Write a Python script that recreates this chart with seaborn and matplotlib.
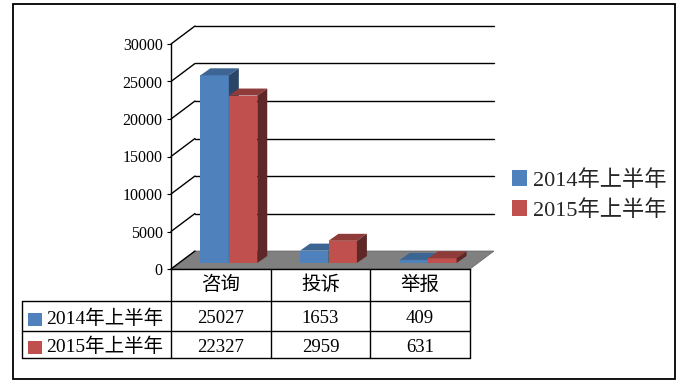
import numpy as np
import pandas as pd
import matplotlib
matplotlib.use("Agg")
import matplotlib.pyplot as plt
import seaborn as sns
from matplotlib.patches import Polygon, Rectangle, Patch
from matplotlib.lines import Line2D
import matplotlib.transforms as mtransforms

# ---------------- data ----------------
categories = ["咨询", "投诉", "举报"]
series_names = ["2014年上半年", "2015年上半年"]
values_2014 = [25027, 1653, 409]
values_2015 = [22327, 2959, 631]
y_ticks = [0, 5000, 10000, 15000, 20000, 25000, 30000]

# ---------------- style ----------------
sns.set_theme(style="white")
FONT = ["Liberation Serif", "Noto Sans CJK SC"]
plt.rcParams["font.family"] = FONT
plt.rcParams["axes.unicode_minus"] = False

FRONT = ["#4F81BD", "#C0504D"]
TOP = ["#3D6593", "#8E3B39"]
SIDE = ["#2A4566", "#5E2828"]
FLOOR = "#808080"

W, H = 683, 386
fig = plt.figure(figsize=(W / 100, H / 100), dpi=100)
fig.patch.set_facecolor("white")


def fx(px):
    return px / W


def fy(py):
    return 1 - py / H


# front plane of the 3D box
L, R, T, B = 171, 470, 44, 269
ax = fig.add_axes([fx(L), fy(B), fx(R) - fx(L), fy(T) - fy(B)])
ax.patch.set_alpha(0)

df = pd.DataFrame({
    "类别": categories * 2,
    "系列": [series_names[0]] * len(categories) + [series_names[1]] * len(categories),
    "数值": values_2014 + values_2015,
})

sns.barplot(data=df, x="类别", y="数值", hue="系列", order=categories,
            hue_order=series_names, palette=FRONT, width=0.57, saturation=1,
            linewidth=0, legend=False, errorbar=None, ax=ax)

ax.set_xlim(-0.5, len(categories) - 0.5)
ax.set_ylim(y_ticks[0], y_ticks[-1])

# pixel -> data conversions (for the oblique depth effect)
PXX = (len(categories)) / (R - L)
PXY = (y_ticks[-1] - y_ticks[0]) / (B - T)
DX, DY = 24 * PXX, 18 * PXY          # full depth of the box
SX, SY = 8 * PXX, 6 * PXY            # bar front position inside the box
BDX, BDY = 10 * PXX, 7 * PXY         # bar depth

x_lo, x_hi = -0.5, len(categories) - 0.5

# floor
ax.add_patch(Polygon([(x_lo, 0), (x_hi, 0), (x_hi + DX, DY), (x_lo + DX, DY)],
                     closed=True, facecolor=FLOOR, edgecolor="#606060",
                     linewidth=0.5, zorder=1, clip_on=False))

# walls: side diagonals and back gridlines
for v in y_ticks:
    ax.add_line(Line2D([x_lo, x_lo + DX], [v, v + DY], color="black",
                       linewidth=1.0, zorder=1.5, clip_on=False))
    if v > 0:
        ax.add_line(Line2D([x_lo + DX, x_hi + DX], [v + DY, v + DY],
                           color="black", linewidth=1.0, zorder=1.5,
                           clip_on=False))

# 3D bars
for si, cont in enumerate(ax.containers):
    for p in cont.patches:
        x0 = p.get_x() + SX
        w = p.get_width()
        h = p.get_height()
        p.set_x(x0)
        p.set_y(SY)
        p.set_zorder(3 + si)
        p.set_clip_on(False)
        top = [(x0, SY + h), (x0 + w, SY + h), (x0 + w + BDX, SY + h + BDY),
               (x0 + BDX, SY + h + BDY)]
        side = [(x0 + w, SY), (x0 + w, SY + h), (x0 + w + BDX, SY + h + BDY),
                (x0 + w + BDX, SY + BDY)]
        ax.add_patch(Polygon(top, closed=True, facecolor=TOP[si],
                             edgecolor="none", zorder=3.5 + si, clip_on=False))
        ax.add_patch(Polygon(side, closed=True, facecolor=SIDE[si],
                             edgecolor="none", zorder=3.5 + si, clip_on=False))

# axes decoration
for s in ["top", "right"]:
    ax.spines[s].set_visible(False)
ax.spines["left"].set_color("black")
ax.spines["left"].set_linewidth(1.0)
ax.spines["bottom"].set_color("black")
ax.spines["bottom"].set_linewidth(1.0)
ax.set_yticks(y_ticks)
ax.set_yticklabels([str(v) for v in y_ticks])
ax.tick_params(axis="y", left=True, direction="out", length=3, width=0.8,
               color="black", pad=3, labelsize=11.5, labelcolor="black")
ax.tick_params(axis="x", bottom=False, length=0, pad=4.5, labelsize=14,
               labelcolor="black")
ax.set_xlabel("")
ax.set_ylabel("")
ax.grid(False)

# ---------------- data table ----------------
blend = mtransforms.blended_transform_factory(ax.transData, fig.transFigure)
row_lines = [301, 331, 358]
row_centers = [318.5, 347]
tbl_left = 22

for yl in row_lines:
    fig.add_artist(Line2D([fx(tbl_left), fx(R)], [fy(yl), fy(yl)],
                          transform=fig.transFigure, color="black", linewidth=1.0))
fig.add_artist(Line2D([fx(tbl_left), fx(tbl_left)], [fy(row_lines[0]), fy(row_lines[-1])],
                      transform=fig.transFigure, color="black", linewidth=1.0))
for k in range(len(categories) + 1):
    xb = -0.5 + k
    ax.add_line(Line2D([xb, xb], [fy(B), fy(row_lines[-1])], transform=blend,
                       color="black", linewidth=1.0, clip_on=False))

for si, vals in enumerate([values_2014, values_2015]):
    yc = row_centers[si]
    for i, v in enumerate(vals):
        ax.text(i, fy(yc), str(v), transform=blend, ha="center", va="center",
                fontsize=13.5, color="black")
    fig.add_artist(Rectangle((fx(28), fy(yc + 7)), fx(14), 13 / H,
                             transform=fig.transFigure, facecolor=FRONT[si],
                             edgecolor="none"))
    fig.text(fx(46), fy(yc), series_names[si], ha="left", va="center",
             fontsize=14, color="black")

# ---------------- legend ----------------
fig.legend(handles=[Patch(facecolor=c, edgecolor="none") for c in FRONT],
           labels=series_names, loc="upper left",
           bbox_to_anchor=(fx(512), fy(170)), frameon=False, fontsize=16,
           handlelength=0.68, handleheight=0.68, handletextpad=0.25,
           labelspacing=0.42, borderpad=0, borderaxespad=0)

# outer border
fig.add_artist(Rectangle((fx(13), fy(379)), fx(675) - fx(13), fy(4) - fy(379),
                         transform=fig.transFigure, fill=False,
                         edgecolor="black", linewidth=1.3))

fig.savefig("out.png", dpi=100)
